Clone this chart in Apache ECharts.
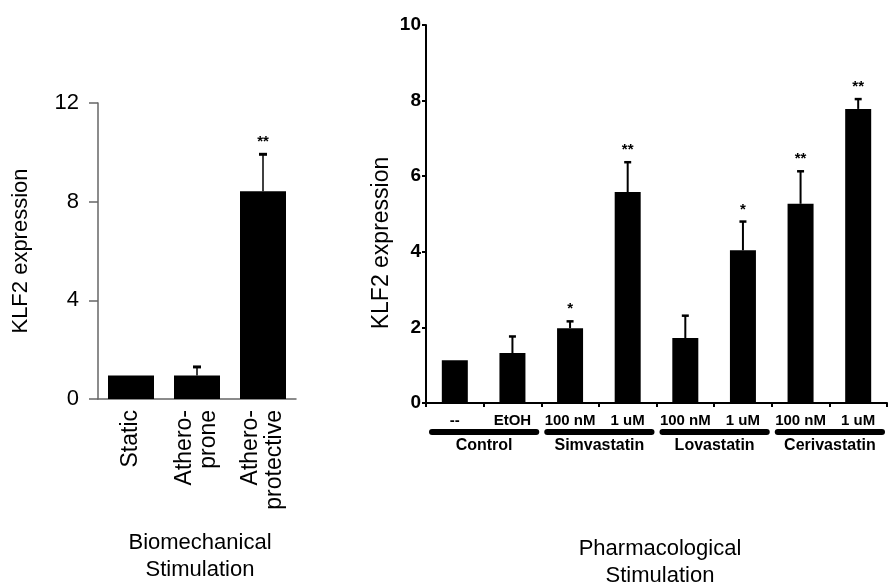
<!DOCTYPE html>
<html><head><meta charset="utf-8">
<script src="https://cdn.jsdelivr.net/npm/echarts@6/dist/echarts.min.js"></script>
<style>html,body{margin:0;padding:0;background:#fff}#c{width:891px;height:585px}</style>
</head><body><div id="c"></div>
<script>
// ---- data ----
const bioCategories = ['Static', 'Athero-\nprone', 'Athero-\nprotective'];
const bioValues = [0.95, 0.95, 8.42];
const bioErrors = [0, 0.35, 1.5];
const bioSig = ['', '', '**'];
const bioTicks = [0, 4, 8, 12];

const pharmCategories = ['--', 'EtOH', '100 nM', '1 uM', '100 nM', '1 uM', '100 nM', '1 uM'];
const pharmValues = [1.13, 1.32, 1.98, 5.58, 1.72, 4.04, 5.27, 7.78];
const pharmErrors = [0, 0.44, 0.18, 0.79, 0.59, 0.76, 0.86, 0.26];
const pharmSig = ['', '', '*', '**', '', '*', '**', '**'];
const pharmTicks = [0, 2, 4, 6, 8, 10];
const pharmGroups = ['Control', 'Simvastatin', 'Lovastatin', 'Cerivastatin'];
const pharmGroupStart = [0, 2, 4, 6];
const pharmGroupEnd = [1, 3, 5, 7];

const FONT = "'Liberation Sans', Arial, Helvetica, sans-serif";

function errRenderer(sigArr, capW, lw, capLw, sigGap) {
  return function (params, api) {
    const i = api.value(0), v = api.value(1), e = api.value(2);
    const base = api.coord([i, v]);
    const top = api.coord([i, v + e]);
    const ch = [];
    if (e > 0) {
      ch.push({ type: 'line', shape: { x1: base[0], y1: base[1], x2: top[0], y2: top[1] }, style: { stroke: '#000', lineWidth: lw } });
      ch.push({ type: 'line', shape: { x1: top[0] - capW / 2, y1: top[1], x2: top[0] + capW / 2, y2: top[1] }, style: { stroke: '#000', lineWidth: capLw } });
    }
    const s = sigArr[params.dataIndex];
    if (s) {
      ch.push({ type: 'text', x: top[0], y: top[1] - sigGap, style: { text: s, fill: '#000', font: 'bold 15px ' + FONT, align: 'center', verticalAlign: 'middle' } });
    }
    return { type: 'group', children: ch };
  };
}

const chart = echarts.init(document.getElementById('c'), null, { renderer: 'canvas' });
const option = {
  animation: false,
  backgroundColor: '#fff',
  textStyle: { fontFamily: FONT },
  grid: [
    { left: 98, top: 103, width: 198, height: 296, containLabel: false },
    { left: 426, top: 25, width: 461, height: 378, containLabel: false }
  ],
  xAxis: [
    {
      gridIndex: 0, type: 'category', data: bioCategories,
      axisLine: { lineStyle: { color: '#666', width: 1.5 } },
      axisTick: { show: false },
      axisLabel: { interval: 0, rotate: 90, margin: 11, fontSize: 23, lineHeight: 24, color: '#000', fontFamily: FONT }
    },
    {
      gridIndex: 1, type: 'category', data: pharmCategories,
      axisLine: { lineStyle: { color: '#000', width: 2 } },
      axisTick: { show: true, length: 4, inside: false, interval: 0, lineStyle: { color: '#000', width: 2 } },
      axisLabel: { interval: 0, margin: 10, fontSize: 15, fontWeight: 'bold', color: '#000', fontFamily: FONT }
    }
  ],
  yAxis: [
    {
      gridIndex: 0, type: 'value', min: bioTicks[0], max: bioTicks[bioTicks.length - 1], interval: 4,
      splitLine: { show: false },
      axisLine: { show: true, lineStyle: { color: '#666', width: 1.5 } },
      axisTick: { show: true, length: 9, lineStyle: { color: '#666', width: 1.5 } },
      axisLabel: { margin: 19, fontSize: 22, color: '#000', fontFamily: FONT },
      name: 'KLF2 expression', nameLocation: 'middle', nameGap: 66,
      nameTextStyle: { fontSize: 22, color: '#000', fontFamily: FONT }
    },
    {
      gridIndex: 1, type: 'value', min: pharmTicks[0], max: pharmTicks[pharmTicks.length - 1], interval: 2,
      splitLine: { show: false },
      axisLine: { show: true, lineStyle: { color: '#000', width: 2 } },
      axisTick: { show: true, length: 4, lineStyle: { color: '#000', width: 2 } },
      axisLabel: { margin: 5, fontSize: 19, fontWeight: 'bold', color: '#000', fontFamily: FONT }
    }
  ],
  series: [
    {
      type: 'bar', xAxisIndex: 0, yAxisIndex: 0, data: bioValues, barWidth: 46,
      itemStyle: { color: '#000' }
    },
    {
      type: 'custom', xAxisIndex: 0, yAxisIndex: 0, z: 5,
      data: bioValues.map((v, i) => [i, v, bioErrors[i]]),
      renderItem: errRenderer(bioSig, 8, 1.5, 3, 12)
    },
    {
      type: 'bar', xAxisIndex: 1, yAxisIndex: 1, data: pharmValues, barWidth: 26,
      itemStyle: { color: '#000' }
    },
    {
      type: 'custom', xAxisIndex: 1, yAxisIndex: 1, z: 5,
      data: pharmValues.map((v, i) => [i, v, pharmErrors[i]]),
      renderItem: errRenderer(pharmSig, 7, 2, 2.5, 12)
    },
    {
      type: 'custom', xAxisIndex: 1, yAxisIndex: 1, z: 5, clip: false,
      data: pharmGroups.map((g, k) => [pharmGroupStart[k], pharmGroupEnd[k], 0]),
      renderItem: function (params, api) {
        const p0 = api.coord([api.value(0), 0]);
        const p1 = api.coord([api.value(1), 0]);
        const bw = api.size([1, 0])[0];
        const x0 = p0[0] - bw / 2 + 3, x1 = p1[0] + bw / 2 - 2;
        const y = p0[1] + 26;
        return {
          type: 'group', children: [
            { type: 'rect', shape: { x: x0, y: y, width: x1 - x0, height: 6, r: 3 }, style: { fill: '#000' } },
            { type: 'text', x: (x0 + x1) / 2, y: y + 17, style: { text: pharmGroups[params.dataIndex], fill: '#000', font: 'bold 16px ' + FONT, align: 'center', verticalAlign: 'middle' } }
          ]
        };
      }
    }
  ],
  graphic: [
    { type: 'text', x: 382, y: 243, rotation: Math.PI / 2, style: { text: 'KLF2 expression', fill: '#000', font: '23px ' + FONT, align: 'center', verticalAlign: 'middle' } },
    { type: 'text', x: 200, y: 556, style: { text: 'Biomechanical\nStimulation', fill: '#000', font: '22px ' + FONT, lineHeight: 27, align: 'center', verticalAlign: 'middle' } },
    { type: 'text', x: 660, y: 562, style: { text: 'Pharmacological\nStimulation', fill: '#000', font: '22px ' + FONT, lineHeight: 27, align: 'center', verticalAlign: 'middle' } }
  ]
};
chart.setOption(option);
</script>
</body></html>
